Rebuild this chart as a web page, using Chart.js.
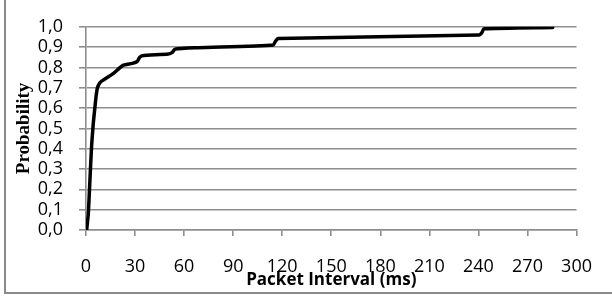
<!DOCTYPE html>
<html>
<head>
<meta charset="utf-8">
<script src="https://cdn.jsdelivr.net/npm/chart.js@4"></script>
<style>
  html, body { margin: 0; padding: 0; background: #fff; }
  canvas { display: block; }
</style>
</head>
<body>
<canvas id="cdfChart" width="612" height="298"></canvas>
<script>
// =================== DATA ===================
const intervalMs = [0.4, 1.4, 2.4, 3.4, 4.4, 5.4, 6.2, 7, 8.5, 10, 16.4, 22.4, 28.4, 31.4, 32.8, 34.4,
                    50.4, 52.8, 54.4, 68.4, 114.4, 116, 117.4, 240.4, 242, 243.4, 285.4];
const probability = [0, 0.08, 0.245, 0.41, 0.52, 0.6, 0.66, 0.7, 0.725, 0.735, 0.768, 0.809, 0.82, 0.83, 0.85, 0.858,
                     0.866, 0.874, 0.89, 0.897, 0.91, 0.93, 0.942, 0.96, 0.97, 0.99, 0.997];

const gridGray = "#8e8e8e";

// frame around the chart (left + bottom are visible)
const framePlugin = {
  id: "frame",
  beforeDraw(chart){
    const ctx = chart.ctx;
    ctx.save();
    ctx.strokeStyle = "#8a8a8a";
    ctx.lineWidth = 2;
    ctx.beginPath();
    ctx.moveTo(5, 0);
    ctx.lineTo(5, 293);
    ctx.lineTo(612, 293);
    ctx.stroke();
    ctx.restore();
  }
};

// =================== CDF CHART ===================
new Chart(document.getElementById("cdfChart"), {
  type: "scatter",
  data: {
    datasets: [{
      data: intervalMs.map((x, i) => ({ x: x, y: probability[i] })),
      showLine: true,
      borderColor: "#000",
      borderWidth: 3.5,
      borderJoinStyle: "round",
      borderCapStyle: "round",
      pointRadius: 0,
      tension: 0.2
    }]
  },
  options: {
    responsive: false,
    animation: false,
    layout: { padding: { left: 0, right: 26, top: 26, bottom: 0 } },
    plugins: { legend: { display: false }, tooltip: { enabled: false } },
    scales: {
      x: {
        type: "linear",
        min: 0, max: 300,
        afterFit: s => { s.height = 68; },
        grid: { drawOnChartArea: false, drawTicks: true, tickLength: 6, color: gridGray, lineWidth: 1.6 },
        border: { display: true, color: gridGray, width: 1.6 },
        ticks: { stepSize: 30, autoSkip: false, maxRotation: 0, padding: 20, color: "#000", font: { family: "Open Sans", size: 18 } },
        title: {
          display: true, text: "Packet Interval (ms)", color: "#000",
          font: { family: "Open Sans", size: 17, weight: "bold" },
          padding: { top: 0, bottom: 8 }
        }
      },
      y: {
        min: 0, max: 1,
        afterFit: s => { s.width = 86; },
        grid: { drawTicks: true, tickLength: 7, color: gridGray, lineWidth: 1.6 },
        border: { display: true, color: gridGray, width: 1.6 },
        ticks: {
          stepSize: 0.1, autoSkip: false, padding: 16, color: "#000",
          font: { family: "Open Sans", size: 18 },
          callback: v => v.toFixed(1).replace(".", ",")
        },
        title: {
          display: true, text: "Probability", color: "#000",
          font: { family: "Liberation Serif", size: 19, weight: "bold" },
          padding: { top: 13, bottom: 0 }
        }
      }
    }
  },
  plugins: [framePlugin]
});
</script>
</body>
</html>
